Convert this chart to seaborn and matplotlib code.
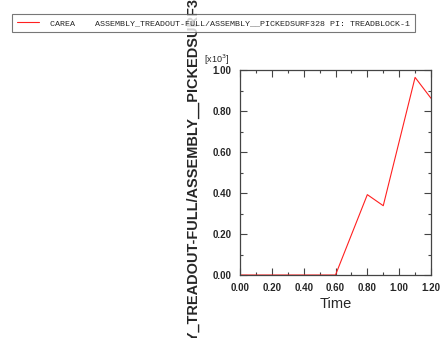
import numpy as np
import pandas as pd
import matplotlib
matplotlib.use("Agg")
import matplotlib.pyplot as plt
import seaborn as sns
from matplotlib.ticker import MultipleLocator, FuncFormatter

# data (CAREA in raw units, axis shows x10^3)
time = [0.0, 0.1, 0.2, 0.3, 0.4, 0.5, 0.6, 0.7, 0.8, 0.9, 1.0, 1.1, 1.2]
carea = [0, 0, 0, 0, 0, 0, 0, 196, 392, 338, 651, 964, 862]

series_label = "CAREA    ASSEMBLY_TREADOUT-FULL/ASSEMBLY__PICKEDSURF328 PI: TREADBLOCK-1"
y_title = "ASSEMBLY_TREADOUT-FULL/ASSEMBLY__PICKEDSURF328"
x_title = "Time"

sns.set_style("ticks")
plt.rcParams["font.family"] = ["Liberation Sans", "DejaVu Sans"]

df = pd.DataFrame({"Time": time, "CAREA": carea})

W, H = 441, 338
fig = plt.figure(figsize=(W / 100, H / 100), dpi=100)
ax = fig.add_axes([240 / W, (H - 275) / H, 191 / W, 205 / H])

sns.lineplot(data=df, x="Time", y="CAREA", ax=ax, color="#ff2020",
             linewidth=0.8, label=series_label, legend=False)

ax.set_xlim(0, 1.2)
ax.set_ylim(0, 1000)
ax.xaxis.set_major_locator(MultipleLocator(0.2))
ax.xaxis.set_minor_locator(MultipleLocator(0.1))
ax.yaxis.set_major_locator(MultipleLocator(200))
ax.yaxis.set_minor_locator(MultipleLocator(100))
ax.xaxis.set_major_formatter(FuncFormatter(lambda v, p: f"{v:.2f}"))
ax.yaxis.set_major_formatter(FuncFormatter(lambda v, p: f"{v / 1000:.2f}"))

ax.tick_params(which="both", direction="in", top=True, right=True,
               color="#444444", width=0.8)
ax.tick_params(which="major", length=5, labelsize=7, pad=6)
ax.tick_params(which="minor", length=2.5)
for lbl in ax.get_xticklabels() + ax.get_yticklabels():
    lbl.set_fontweight("bold")
for sp in ax.spines.values():
    sp.set_color("#444444")
    sp.set_linewidth(0.9)

ax.set_xlabel(x_title, fontsize=10.5, labelpad=3)
ax.set_ylabel("")
# long y title runs past the figure edges, as in the reference
fig.text(193 / W, (H - 196) / H, y_title, rotation=90, ha="center",
         va="center", fontsize=10.45, fontweight="bold")
fig.text(204 / W, 1 - 63 / H, r"[x10$^3$]", fontsize=6.5, va="baseline")

handles, labels = ax.get_legend_handles_labels()
leg = fig.legend(handles, labels, loc="upper left",
                 bbox_to_anchor=(12 / W, 1 - 14 / H), borderaxespad=0,
                 prop={"family": "Liberation Mono", "size": 6.05},
                 frameon=True, fancybox=False, edgecolor="#555555",
                 handlelength=2.6, handletextpad=1.3, borderpad=0.6)
leg.get_frame().set_linewidth(0.8)

fig.savefig("out.png", dpi=100)
